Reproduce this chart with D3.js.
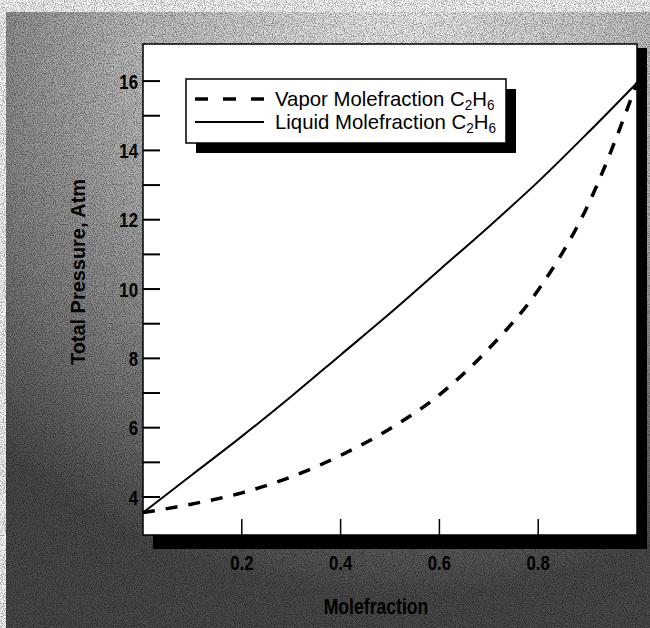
<!DOCTYPE html>
<html>
<head>
<meta charset="utf-8">
<script src="https://cdn.jsdelivr.net/npm/d3@7"></script>
<style>
  body { margin: 0; background: #fff; }
  text { font-family: "Liberation Sans", Arial, sans-serif; }
</style>
</head>
<body>
<div id="chart"></div>
<script>
// molefraction of C2H6 and total pressure (atm)
var molefraction = [0, 0.1, 0.2, 0.3, 0.4, 0.5, 0.6, 0.7, 0.8, 0.9, 1.0];
var vaporPressure = [3.55, 3.8, 4.12, 4.58, 5.2, 5.97, 6.95, 8.28, 9.97, 12.4, 15.95];
var liquidPressure = [3.55, 4.65, 5.75, 6.9, 8.1, 9.3, 10.55, 11.8, 13.1, 14.5, 15.95];
var xTicks = [0.2, 0.4, 0.6, 0.8];
var yMajor = [4, 6, 8, 10, 12, 14, 16];
var yMinor = [5, 7, 9, 11, 13, 15];
var legendLabels = ["Vapor Molefraction C", "Liquid Molefraction C"];

var W = 650, H = 628;
var plotL = 143, plotR = 637, plotT = 44, plotB = 535;

var svg = d3.select("#chart").append("svg")
    .attr("width", W)
    .attr("height", H);

var defs = svg.append("defs");
var grad = defs.append("radialGradient")
    .attr("id", "bg")
    .attr("cx", "0.62").attr("cy", "0.0").attr("r", "0.95");
grad.append("stop").attr("offset", "0").attr("stop-color", "#f4f4f4");
grad.append("stop").attr("offset", "0.45").attr("stop-color", "#c0c0c0");
grad.append("stop").attr("offset", "1").attr("stop-color", "#4a4a4a");

var noise = defs.append("filter").attr("id", "noise");
noise.append("feTurbulence")
    .attr("type", "fractalNoise")
    .attr("baseFrequency", "1.1")
    .attr("numOctaves", 1)
    .attr("seed", 7);
noise.append("feColorMatrix")
    .attr("values", "0 0 0 0 0  0 0 0 0 0  0 0 0 0 0  0 0 0 -2.4 1.45");

// scanned-paper background
svg.append("rect")
    .attr("x", 6).attr("y", 12)
    .attr("width", W - 6).attr("height", H - 12)
    .attr("fill", "url(#bg)");
svg.append("rect")
    .attr("x", 6).attr("y", 12)
    .attr("width", W - 6).attr("height", H - 12)
    .attr("filter", "url(#noise)")
    .attr("opacity", 0.5);

var x = d3.scaleLinear().domain([0, 1]).range([plotL, plotR]);
var y = d3.scaleLinear().domain([2.904, 17.07]).range([plotB, plotT]);

// drop shadow + plot panel
svg.append("rect")
    .attr("x", plotL + 10).attr("y", plotT + 4)
    .attr("width", plotR - plotL).attr("height", plotB - plotT + 10)
    .attr("fill", "#000");
svg.append("rect")
    .attr("x", plotL).attr("y", plotT)
    .attr("width", plotR - plotL).attr("height", plotB - plotT)
    .attr("fill", "#fff")
    .attr("stroke", "#000")
    .attr("stroke-width", 1.5);

// the original uses a condensed face, so squeeze the text sideways
function squeezed(sel, cx, cy, k) {
    sel.attr("transform", "translate(" + cx + "," + cy + ") scale(" + k + ",1)");
}

// y ticks (pointing in)
svg.append("g")
    .attr("transform", "translate(" + plotL + ",0)")
    .selectAll("line")
    .data(yMajor.concat(yMinor))
    .join("line")
    .attr("x1", 0).attr("x2", 17)
    .attr("y1", function(d) { return y(d); })
    .attr("y2", function(d) { return y(d); })
    .attr("stroke", "#000")
    .attr("stroke-width", 2);

svg.append("g")
    .selectAll("text")
    .data(yMajor)
    .join("text")
    .each(function(d) { squeezed(d3.select(this), 138, y(d) + 7.5, 0.8); })
    .attr("text-anchor", "end")
    .attr("font-size", 21)
    .attr("font-weight", "bold")
    .text(function(d) { return d; });

// x ticks (pointing up)
svg.append("g")
    .selectAll("line")
    .data(xTicks)
    .join("line")
    .attr("x1", function(d) { return x(d); })
    .attr("x2", function(d) { return x(d); })
    .attr("y1", plotB).attr("y2", plotB - 16)
    .attr("stroke", "#000")
    .attr("stroke-width", 1.5);

svg.append("g")
    .selectAll("text")
    .data(xTicks)
    .join("text")
    .each(function(d) { squeezed(d3.select(this), x(d), 570, 0.8); })
    .attr("text-anchor", "middle")
    .attr("font-size", 21)
    .attr("font-weight", "bold")
    .text(function(d) { return d3.format(".1f")(d); });

// axis titles
svg.append("text")
    .call(squeezed, 376, 614, 0.8)
    .attr("text-anchor", "middle")
    .attr("font-size", 22)
    .attr("font-weight", "bold")
    .text("Molefraction");

svg.append("text")
    .attr("transform", "translate(85,272) rotate(-90) scale(0.95,1)")
    .attr("text-anchor", "middle")
    .attr("font-size", 21)
    .attr("font-weight", "bold")
    .text("Total Pressure, Atm");

// curves
var line = d3.line()
    .x(function(d) { return x(d[0]); })
    .y(function(d) { return y(d[1]); })
    .curve(d3.curveMonotoneX);

svg.append("path")
    .datum(d3.zip(molefraction, liquidPressure))
    .attr("d", line)
    .attr("fill", "none")
    .attr("stroke", "#000")
    .attr("stroke-width", 2);

svg.append("path")
    .datum(d3.zip(molefraction, vaporPressure))
    .attr("d", line)
    .attr("fill", "none")
    .attr("stroke", "#000")
    .attr("stroke-width", 3.5)
    .attr("stroke-dasharray", "12,11");

// legend
var lg = svg.append("g");
lg.append("rect")
    .attr("x", 196).attr("y", 89)
    .attr("width", 320).attr("height", 64)
    .attr("fill", "#000");
lg.append("rect")
    .attr("x", 186).attr("y", 79)
    .attr("width", 320).attr("height", 64)
    .attr("fill", "#fff")
    .attr("stroke", "#000")
    .attr("stroke-width", 1.5);

var rows = lg.selectAll("g.row")
    .data(legendLabels)
    .join("g")
    .attr("class", "row")
    .attr("transform", function(d, i) { return "translate(0," + (99 + i * 23) + ")"; });

rows.append("line")
    .attr("x1", 195).attr("x2", 264)
    .attr("y1", 0).attr("y2", 0)
    .attr("stroke", "#000")
    .attr("stroke-width", function(d, i) { return i === 0 ? 3.5 : 2; })
    .attr("stroke-dasharray", function(d, i) { return i === 0 ? "13,15" : null; });

var lt = rows.append("text")
    .call(squeezed, 275, 7, 0.97)
    .attr("font-size", 21);
lt.append("tspan").text(function(d) { return d; });
lt.append("tspan").attr("font-size", 14).attr("dy", 4).text("2");
lt.append("tspan").attr("dy", -4).text("H");
lt.append("tspan").attr("font-size", 14).attr("dy", 4).text("6");
</script>
</body>
</html>
